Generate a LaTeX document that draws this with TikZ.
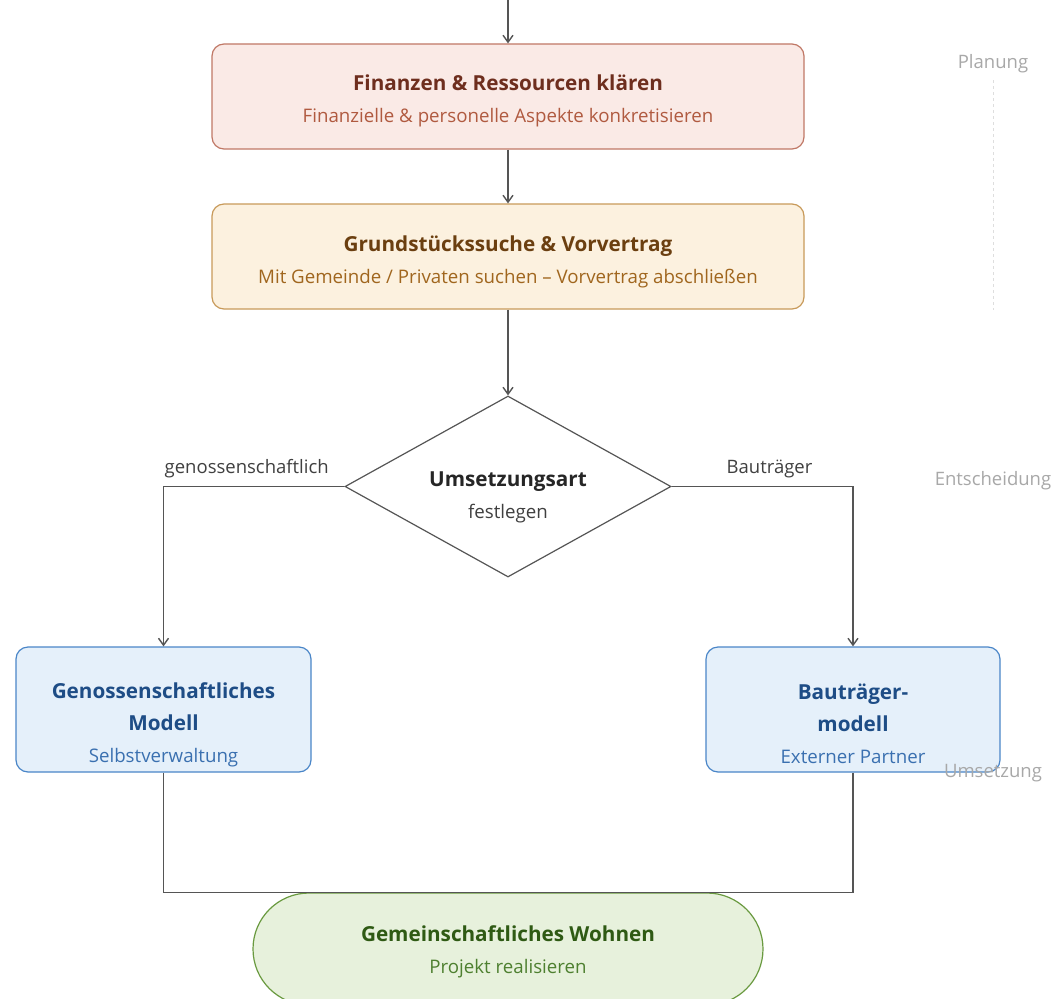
\documentclass[tikz,border=0pt]{standalone}
\usepackage{fontspec}
\setmainfont{Open Sans}
\usetikzlibrary{shapes.geometric,arrows.meta}
\definecolor{lineg}{HTML}{555555}
\definecolor{sideg}{HTML}{A8A8A8}
\definecolor{p1fill}{HTML}{FAEAE6}\definecolor{p1draw}{HTML}{C07866}\definecolor{p1t}{HTML}{6E2E1E}\definecolor{p1s}{HTML}{B05A40}
\definecolor{p2fill}{HTML}{FCF1DF}\definecolor{p2draw}{HTML}{C89A5A}\definecolor{p2t}{HTML}{6B3F10}\definecolor{p2s}{HTML}{A0661E}
\definecolor{p3fill}{HTML}{E5F0FA}\definecolor{p3draw}{HTML}{4A86C8}\definecolor{p3t}{HTML}{1E4D86}\definecolor{p3s}{HTML}{3A70B0}
\definecolor{p4fill}{HTML}{E7F1DC}\definecolor{p4draw}{HTML}{6A9A40}\definecolor{p4t}{HTML}{2F5A14}\definecolor{p4s}{HTML}{4E8030}
\newcommand{\tf}{\fontsize{20.7}{32}\selectfont\bfseries}
\newcommand{\sfx}{\fontsize{18.7}{32}\selectfont}
\tikzset{
  box/.style={draw, line width=1.2pt, rounded corners=12pt, inner sep=0pt},
  txt/.style={align=center, inner sep=0pt, font=\fontsize{18.7}{32}\selectfont},
  arr/.style={draw=lineg, line width=1.4pt, -{Straight Barb[length=7pt,width=10pt]}},
  conn/.style={draw=lineg, line width=1.2pt},
  side/.style={text=sideg, font=\fontsize{18.5}{20}\selectfont},
  lab/.style={text=black!75, font=\fontsize{18.5}{20}\selectfont}
}
\begin{document}
\begin{tikzpicture}[x=1pt,y=-1pt]
\clip (0,0) rectangle (1054,998);
\fill[white] (0,0) rectangle (1054,998);
% side labels
\node[side] (planung) at (993,64) {Planung};
\node[side] (entsch) at (993,481) {Entscheidung};
\coordinate (dtop) at (993,80);
\coordinate (dbot) at (993,310);
\draw[black!13, line width=1pt, dash pattern=on 3pt off 3pt] (dtop) -- (dbot);
% nodes
\node[box, fill=p1fill, draw=p1draw, minimum width=592pt, minimum height=105pt] (b1) at (508,96.5) {};
\node[txt] (b1t) at (508,100.5) {{\tf\color{p1t}Finanzen \& Ressourcen klären}\\{\sfx\color{p1s}Finanzielle \& personelle Aspekte konkretisieren}};
\node[box, fill=p2fill, draw=p2draw, minimum width=592pt, minimum height=105pt] (b2) at (508,256.5) {};
\node[txt] (b2t) at (508,261.5) {{\tf\color{p2t}Grundstückssuche \& Vorvertrag}\\{\sfx\color{p2s}Mit Gemeinde / Privaten suchen – Vorvertrag abschließen}};
\node[diamond, draw=lineg, fill=white, line width=1.2pt, aspect=1.8, minimum width=326pt, minimum height=181pt, inner sep=0pt] (d) at (508,486.5) {};
\node[txt] (dt) at (508,497.5) {{\tf\color{black!85}Umsetzungsart}\\{\sfx\color{black!75}festlegen}};
\node[box, fill=p3fill, draw=p3draw, minimum width=295pt, minimum height=125pt] (b3) at (163.5,709.5) {};
\node[txt] (b3t) at (163.5,724.5) {{\tf\color{p3t}Genossenschaftliches}\\{\tf\color{p3t}Modell}\\{\sfx\color{p3s}Selbstverwaltung}};
\node[box, fill=p3fill, draw=p3draw, minimum width=294pt, minimum height=125pt] (b4) at (853,709.5) {};
\node[txt] (b4t) at (853,723.5) {{\tf\color{p3t}Bauträger-}\\{\tf\color{p3t}modell}\\{\sfx\color{p3s}Externer Partner}};
\node[side] (umsetz) at (993,773) {Umsetzung};
% connectors
\coordinate (start) at (508,0);
\draw[arr] (start) -- (b1.north);
\draw[arr] (b1.south) -- (b2.north);
\draw[arr] (b2.south) -- (d.north);
\draw[arr] (d.west) -| node[pos=0.27, above=5pt, lab] {genossenschaftlich} (b3.north);
\draw[arr] (d.east) -| node[pos=0.27, above=5pt, lab] {Bauträger} (b4.north);
\node[box, fill=p4fill, draw=p4draw, rounded corners=56pt, minimum width=510pt, minimum height=112pt] (g) at (508,949) {};
\node[txt] (gt) at (508,951.5) {{\tf\color{p4t}Gemeinschaftliches Wohnen}\\{\sfx\color{p4s}Projekt realisieren}};
\draw[conn] (b3.south) |- (g.north);
\draw[conn] (b4.south) |- (g.north);
\end{tikzpicture}
\end{document}
